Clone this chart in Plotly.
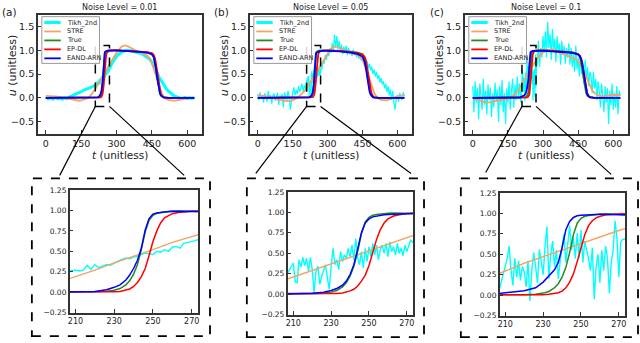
import plotly.graph_objects as go

W, H = 640, 343
FONT = "DejaVu Sans"

names = ["Tikh_2nd", "STRE", "True", "EP-DL", "EAND-ARN"]
colors = ["#00ffff", "#f4a460", "#228b22", "#ff0000", "#0000ff"]
noise_levels = ["0.01", "0.05", "0.1"]
panel_tags = ["(a)", "(b)", "(c)"]

# Tikh_2nd: coarse left part, dense zoom window (210-272), coarse right part
tikh_a_left = [0.01, -0.02, 0.00, -0.03, 0.01, -0.02, -0.01, -0.03, 0.00, -0.02,
               0.02, 0.04, 0.06, 0.08, 0.10, 0.13, 0.16, 0.18, 0.21, 0.23, 0.25]
tikh_a_zoom = [0.27, 0.26, 0.27, 0.33, 0.28, 0.34, 0.30, 0.32, 0.34, 0.33,
               0.36, 0.38, 0.40, 0.42, 0.41, 0.43, 0.44, 0.46, 0.48, 0.47,
               0.46, 0.50, 0.49, 0.52, 0.50, 0.55, 0.56, 0.54, 0.60, 0.61,
               0.62, 0.63]
tikh_a_right = [0.72, 0.80, 0.87, 0.92, 0.96, 0.98, 1.00, 1.00, 0.99, 0.98,
                0.97, 0.96, 0.94, 0.92, 0.89, 0.86, 0.82, 0.75, 0.66, 0.55,
                0.44, 0.35, 0.27, 0.20, 0.14, 0.09, 0.06, 0.03, 0.01, 0.00,
                -0.01, 0.01, -0.01, 0.00, -0.01, 0.01]

tikh_b_left = [0.08, -0.05, 0.12, -0.02, 0.05, -0.10, 0.10, 0.02, -0.08, 0.15,
               -0.03, 0.06, -0.12, 0.04, 0.09, -0.06, 0.02, 0.11, -0.15, 0.05,
               0.00, 0.08, -0.20, 0.12, 0.03, -0.05, 0.15, 0.02, -0.25, -0.02,
               0.10, 0.22, 0.05, 0.16, 0.08, 0.25, 0.12, 0.20, 0.30, 0.14,
               0.26, 0.18]
tikh_b_zoom = [0.38, 0.15, 0.14, 0.42, 0.33, 0.45, 0.35, 0.44, 0.28, 0.45,
               0.30, 0.02, 0.28, 0.34, 0.12, 0.22, 0.30, 0.36, 0.20, 0.06,
               0.35, 0.56, 0.36, 0.42, 0.30, 0.52, 0.40, 0.48, 0.44, 0.56,
               0.46, 0.60, 0.42, 0.68, 0.45, 0.36, 0.52, 0.32, 0.56, 0.40,
               0.58, 0.46, 0.62, 0.48, 0.60, 0.42, 0.55, 0.60, 0.50, 0.62,
               0.46, 0.64, 0.52, 0.58, 0.48, 0.62, 0.50, 0.56, 0.47, 0.60,
               0.52, 0.58, 0.66]
tikh_b_right = [0.60, 0.78, 0.72, 0.90, 0.80, 0.95,
                0.88, 1.05, 0.95, 1.15, 1.00, 1.33, 1.05, 1.30, 1.02, 1.20,
                0.98, 1.12, 0.92, 1.08, 0.95, 1.10, 0.90, 1.05, 0.92, 1.00,
                0.88, 1.02, 0.90, 0.98, 0.85, 0.95, 0.82, 0.92, 0.78, 0.90,
                0.72, 0.85, 0.68, 0.78, 0.62, 0.72, 0.58, 0.66, 0.50, 0.60,
                0.45, 0.55, 0.40, 0.48, 0.32, 0.42, 0.28, 0.35, 0.20, 0.30,
                0.12, 0.25, 0.05, 0.18, -0.05, 0.15, -0.10, -0.25, -0.02, 0.06,
                -0.08, 0.10, 0.02, -0.05, 0.12, 0.03]

tikh_c_left = [0.25, -0.30, 0.35, -0.10, 0.20, -0.45, 0.30, 0.05, -0.25, 0.40,
               -0.15, 0.15, -0.35, 0.28, -0.05, 0.22, -0.40, 0.10, -0.20, 0.32,
               -0.08, 0.18, -0.50, 0.25, -0.15, 0.38, -0.30, 0.10, -0.55, 0.20,
               -0.10, 0.35, -0.25, 0.15, 0.40, -0.20, 0.28, -0.05, 0.45, 0.02,
               0.30, -0.10]
tikh_c_zoom = [0.33, 0.45, 0.60, 0.30, 0.12, 0.45, 0.22, 0.42, 0.18, 0.35,
               0.28, 0.10, 0.42, -0.07, 0.30, 0.52, 0.35, 0.15, 0.56, 0.40,
               0.25, 0.60, 0.84, 0.20, 0.50, 0.66, 0.35, 0.55, 0.20, 0.42,
               0.62, 0.75, 0.40, 0.60, 0.85, 0.55, 0.70, 0.45, 0.76, 0.45,
               0.80, 0.40, 0.66, 0.55, 0.45, 0.30, 0.58, -0.05, 0.35, 0.50,
               0.15, 0.55, 0.30, 0.60, 0.45, 0.02, 0.40, 0.55, 0.91, 0.70,
               0.22, 0.65, 0.68]
tikh_c_right = [0.70, 1.20, 0.65, 1.05, 0.85, 1.30,
                0.95, 1.40, 0.85, 1.60, 1.05, 1.35, 0.80, 1.45, 1.00, 1.25,
                0.75, 1.30, 0.95, 1.15, 0.70, 1.20, 0.90, 1.10, 0.72, 1.05,
                0.85, 1.15, 0.70, 1.05, 0.65, 0.95, 0.55, 1.10, 0.60, 0.85,
                0.45, 0.90, 0.50, 0.75, 0.30, 0.80, 0.40, 0.65, 0.25, 0.55,
                0.45, 0.10, 0.55, 0.20, 0.40, -0.05, 0.35, 0.15, -0.20, 0.30,
                0.05, -0.30, 0.25, -0.10, 0.20, -0.55, 0.15, -0.15, 0.30, -0.25,
                0.10, -0.20, 0.25, -0.35, 0.15, 0.05]

# STRE on t = 0, 10, ..., 630
t_stre = list(range(0, 631, 10))
stre_a = [0.04, 0.04, 0.04, 0.035, 0.03, 0.025, 0.02, 0.01, 0.00, -0.015,
          -0.03, -0.04, -0.05, -0.055, -0.06, -0.055, -0.04, -0.02, 0.00, 0.05,
          0.11, 0.19, 0.27, 0.36, 0.44, 0.52, 0.61, 0.69, 0.78, 0.87,
          0.95, 1.02, 1.07, 1.10, 1.10, 1.08, 1.05, 1.02, 1.00, 0.98,
          0.96, 0.94, 0.92, 0.89, 0.83, 0.73, 0.58, 0.42, 0.26, 0.12,
          0.03, -0.02, -0.04, -0.055, -0.06, -0.06, -0.05, -0.035, -0.02, -0.01,
          0.00, 0.00, 0.00, 0.00]
stre_b = [0.05, 0.05, 0.04, 0.04, 0.03, 0.02, 0.01, 0.00, -0.02, -0.035,
          -0.05, -0.06, -0.07, -0.07, -0.065, -0.05, -0.03, 0.00, 0.04, 0.09,
          0.14, 0.21, 0.29, 0.37, 0.45, 0.53, 0.61, 0.69, 0.77, 0.85,
          0.93, 1.00, 1.05, 1.08, 1.08, 1.06, 1.03, 1.00, 0.98, 0.96,
          0.95, 0.93, 0.92, 0.90, 0.86, 0.79, 0.68, 0.54, 0.38, 0.23,
          0.11, 0.03, -0.02, -0.04, -0.05, -0.05, -0.04, -0.02, 0.00, 0.02,
          0.03, 0.04, 0.05, 0.05]
stre_c = [0.00, -0.02, -0.04, -0.06, -0.08, -0.09, -0.10, -0.10, -0.09, -0.08,
          -0.07, -0.06, -0.05, -0.04, -0.03, -0.01, 0.01, 0.04, 0.08, 0.13,
          0.20, 0.30, 0.39, 0.47, 0.55, 0.63, 0.71, 0.79, 0.86, 0.92,
          0.96, 0.99, 1.01, 1.02, 1.02, 1.00, 0.98, 0.96, 0.94, 0.92,
          0.90, 0.88, 0.86, 0.84, 0.81, 0.77, 0.70, 0.60, 0.48, 0.36,
          0.25, 0.16, 0.10, 0.06, 0.04, 0.03, 0.03, 0.04, 0.05, 0.06,
          0.06, 0.06, 0.06, 0.06]

# True / EP-DL / EAND-ARN on a shared grid (denser near the edges)
t_sm = [0, 100, 200, 220, 226, 230, 233, 236, 238, 240,
        242, 244, 246, 248, 250, 252, 254, 256, 258, 260,
        263, 266, 270, 280, 300, 350, 400, 430, 450, 458,
        464, 468, 472, 476, 480, 484, 488, 494, 500, 520,
        630]
true_u = [0, 0, 0, 0.005, 0.012, 0.025, 0.045, 0.09, 0.14, 0.22,
          0.34, 0.52, 0.74, 0.88, 0.94, 0.965, 0.975, 0.982, 0.986, 0.99,
          0.993, 0.995, 0.997, 1.0, 1.0, 0.99, 0.97, 0.95, 0.92, 0.86,
          0.74, 0.6, 0.44, 0.3, 0.18, 0.1, 0.05, 0.02, 0.008, 0, 0]
epdl_a = [0, 0, 0, 0, 0, 0.005, 0.01, 0.025, 0.04, 0.07,
          0.12, 0.19, 0.29, 0.45, 0.62, 0.75, 0.85, 0.91, 0.94, 0.96,
          0.975, 0.985, 0.99, 0.995, 1.0, 0.99, 0.975, 0.96, 0.94, 0.9,
          0.82, 0.7, 0.55, 0.4, 0.26, 0.15, 0.08, 0.03, 0.01, 0, 0]
eand_a = [0, 0, 0, 0.01, 0.03, 0.06, 0.09, 0.15, 0.21, 0.29,
          0.39, 0.54, 0.76, 0.90, 0.955, 0.97, 0.978, 0.983, 0.987, 0.99,
          0.993, 0.995, 0.997, 1.0, 1.0, 0.99, 0.97, 0.95, 0.92, 0.86,
          0.74, 0.6, 0.44, 0.3, 0.18, 0.1, 0.05, 0.02, 0.008, 0, 0]
epdl_b = [0, 0, 0, 0, 0, 0.003, 0.008, 0.015, 0.025, 0.04,
          0.06, 0.1, 0.16, 0.23, 0.35, 0.52, 0.67, 0.79, 0.87, 0.92,
          0.955, 0.972, 0.985, 0.995, 1.0, 0.99, 0.97, 0.94, 0.91, 0.87,
          0.8, 0.7, 0.58, 0.45, 0.32, 0.2, 0.11, 0.04, 0.015, 0, 0]
eand_b = [0, 0, 0, 0.01, 0.025, 0.045, 0.07, 0.11, 0.16, 0.24,
          0.36, 0.55, 0.75, 0.87, 0.92, 0.945, 0.955, 0.963, 0.97, 0.975,
          0.98, 0.984, 0.987, 0.99, 0.99, 0.98, 0.95, 0.92, 0.87, 0.78,
          0.64, 0.5, 0.36, 0.24, 0.14, 0.08, 0.04, 0.015, 0.005, 0, 0]
epdl_c = [0, 0, 0, 0, 0.002, 0.005, 0.01, 0.02, 0.03, 0.05,
          0.09, 0.16, 0.26, 0.41, 0.59, 0.74, 0.85, 0.91, 0.945, 0.965,
          0.98, 0.988, 0.993, 0.997, 1.0, 0.99, 0.97, 0.95, 0.92, 0.88,
          0.8, 0.7, 0.57, 0.44, 0.3, 0.19, 0.1, 0.04, 0.015, 0, 0]
eand_c = [0, 0, 0.005, 0.055, 0.09, 0.16, 0.23, 0.31, 0.40, 0.58,
          0.80, 0.90, 0.95, 0.97, 0.978, 0.982, 0.985, 0.987, 0.988, 0.989,
          0.99, 0.99, 0.99, 0.99, 0.99, 0.98, 0.96, 0.94, 0.91, 0.87,
          0.8, 0.7, 0.57, 0.44, 0.3, 0.19, 0.1, 0.04, 0.015, 0, 0]

top_xticks = [0, 150, 300, 450, 600]
top_yticks = [-0.5, 0.0, 0.5, 1.0, 1.5]
ins_xticks = [210, 230, 250, 270]
ins_yticks = [-0.25, 0.0, 0.25, 0.5, 0.75, 1.0, 1.25]
zoom_t = (210, 270)
zoom_u = (-0.18, 1.1)

# --- layout in pixels --------------------------------------------------------
top_x = [(36, 201), (249, 412), (465, 629)]
top_y = (11, 133)
top_range = [-34, 663]
ins_x = [(68, 197), (287, 413), (500, 626)]
ins_y = [(191, 317), (193, 319), (194, 320)]
ins_range = [207, 273.3]
outer = [(30, 179, 209, 341), (246, 179, 424, 342), (461, 179, 639, 342)]
link_ends = [((58, 176), (183, 176)), ((255, 174), (411, 174)), ((486, 173), (612, 175))]


def fx(v):
    return v / W


def fy(v):
    return 1 - v / H


def aid(n):
    return "" if n == 1 else str(n)


tikh_sets = [
    (list(range(0, 201, 10)) + list(range(210, 273, 2)) + list(range(280, 631, 10)),
     tikh_a_left + tikh_a_zoom + tikh_a_right),
    (list(range(0, 206, 5)) + list(range(210, 273)) + list(range(275, 631, 5)),
     tikh_b_left + tikh_b_zoom + tikh_b_right),
    (list(range(0, 206, 5)) + list(range(210, 273)) + list(range(275, 631, 5)),
     tikh_c_left + tikh_c_zoom + tikh_c_right),
]
stre_sets = [stre_a, stre_b, stre_c]
epdl_sets = [epdl_a, epdl_b, epdl_c]
eand_sets = [eand_a, eand_b, eand_c]

fig = go.Figure()
shapes = []
annotations = []

for i in range(3):
    top, ins = i + 1, i + 4
    series = [tikh_sets[i], (t_stre, stre_sets[i]), (t_sm, true_u),
              (t_sm, epdl_sets[i]), (t_sm, eand_sets[i])]
    top_w = [3.0 if i == 0 else 1.2, 1.8, 1.8, 1.8, 1.8]
    ins_w = [1.4, 1.4, 1.5, 1.5, 1.5]
    for k, (tt, uu) in enumerate(series):
        fig.add_trace(go.Scatter(x=tt, y=uu, mode="lines", name=names[k],
                                 line=dict(color=colors[k], width=top_w[k]),
                                 showlegend=False,
                                 xaxis="x" + aid(top), yaxis="y" + aid(top)))
        fig.add_trace(go.Scatter(x=tt, y=uu, mode="lines", name=names[k],
                                 line=dict(color=colors[k], width=ins_w[k]),
                                 showlegend=False,
                                 xaxis="x" + aid(ins), yaxis="y" + aid(ins)))

    common = dict(showline=True, mirror=True, linecolor="#333", linewidth=1.5,
                  ticks="inside", ticklen=3.5, tickwidth=1, tickcolor="#333",
                  showgrid=False, zeroline=False, fixedrange=True)
    fig.update_layout(**{
        "xaxis" + aid(top): dict(common, domain=[fx(top_x[i][0]), fx(top_x[i][1])],
                                 range=top_range, tickvals=top_xticks,
                                 anchor="y" + aid(top),
                                 tickfont=dict(family=FONT, size=9.5, color="#222")),
        "yaxis" + aid(top): dict(common, domain=[fy(top_y[1]), fy(top_y[0])],
                                 range=[-0.75, 1.75], tickvals=top_yticks, tickformat=".1f",
                                 anchor="x" + aid(top),
                                 tickfont=dict(family=FONT, size=9.5, color="#222")),
        "xaxis" + aid(ins): dict(common, domain=[fx(ins_x[i][0]), fx(ins_x[i][1])],
                                 range=ins_range, tickvals=ins_xticks,
                                 anchor="y" + aid(ins),
                                 tickfont=dict(family=FONT, size=8, color="#222")),
        "yaxis" + aid(ins): dict(common, domain=[fy(ins_y[i][1]), fy(ins_y[i][0])],
                                 range=[-0.25, 1.25], tickvals=ins_yticks, tickformat=".2f",
                                 anchor="x" + aid(ins),
                                 tickfont=dict(family=FONT, size=7.5, color="#222")),
    })

    # zoom window on the top axes
    shapes.append(dict(type="rect", xref="x" + aid(top), yref="y" + aid(top),
                       x0=zoom_t[0], x1=zoom_t[1], y0=zoom_u[0], y1=zoom_u[1],
                       line=dict(color="black", width=1.5, dash="dash")))
    # outer dashed frame around the inset
    ox0, oy0, ox1, oy1 = outer[i]
    shapes.append(dict(type="rect", xref="paper", yref="paper",
                       x0=fx(ox0), x1=fx(ox1), y0=fy(oy1), y1=fy(oy0),
                       line=dict(color="black", width=1.8, dash="dash")))
    # connector lines from the zoom window corners
    xd0, xd1 = fx(top_x[i][0]), fx(top_x[i][1])
    yd0, yd1 = fy(top_y[1]), fy(top_y[0])
    for corner, end in zip(zoom_t, link_ends[i]):
        cx = xd0 + (corner - top_range[0]) / (top_range[1] - top_range[0]) * (xd1 - xd0)
        cy = yd0 + (zoom_u[0] + 0.75) / 2.5 * (yd1 - yd0)
        shapes.append(dict(type="line", xref="paper", yref="paper",
                           x0=cx, y0=cy, x1=fx(end[0]), y1=fy(end[1]),
                           line=dict(color="black", width=1.2)))

    # legend drawn by hand (compact matplotlib-style rows)
    lx0 = top_x[i][0] + 4
    shapes.append(dict(type="rect", xref="paper", yref="paper",
                       x0=fx(lx0), x1=fx(lx0 + 58), y0=fy(61), y1=fy(13),
                       line=dict(color="#999", width=1), fillcolor="rgba(255,255,255,0.85)"))
    for k in range(5):
        ry = 19 + 9.2 * k
        shapes.append(dict(type="line", xref="paper", yref="paper",
                           x0=fx(lx0 + 2.5), x1=fx(lx0 + 19), y0=fy(ry), y1=fy(ry),
                           line=dict(color=colors[k], width=3 if k == 0 else 1.8)))
        annotations.append(dict(text=names[k], xref="paper", yref="paper",
                                x=fx(lx0 + 23), y=fy(ry), xanchor="left", yanchor="middle",
                                showarrow=False, font=dict(family=FONT, size=6.5, color="#222")))

    cxm = (top_x[i][0] + top_x[i][1]) / 2
    annotations.append(dict(text="Noise Level = " + noise_levels[i], xref="paper", yref="paper",
                            x=fx(cxm), y=fy(4), xanchor="center", yanchor="middle",
                            showarrow=False, font=dict(family=FONT, size=8, color="#222")))
    annotations.append(dict(text="<i>t</i> (unitless)", xref="paper", yref="paper",
                            x=fx(cxm), y=fy(155), xanchor="center", yanchor="middle",
                            showarrow=False, font=dict(family=FONT, size=10.5, color="#222")))
    annotations.append(dict(text="<i>u</i> (unitless)", xref="paper", yref="paper",
                            x=fx(top_x[i][0] - 26), y=fy(63), xanchor="center", yanchor="middle",
                            textangle=-90, showarrow=False,
                            font=dict(family=FONT, size=11, color="#222")))
    annotations.append(dict(text=panel_tags[i], xref="paper", yref="paper",
                            x=fx(top_x[i][0] - 28), y=fy(8), xanchor="center", yanchor="middle",
                            showarrow=False, font=dict(family=FONT, size=10.5, color="#222")))

fig.update_layout(width=W, height=H, autosize=False,
                  margin=dict(l=0, r=0, t=0, b=0),
                  plot_bgcolor="white", paper_bgcolor="white",
                  shapes=shapes, annotations=annotations,
                  font=dict(family=FONT))

# the page body has a default 8px margin; drop it so the figure fills the window
fig.write_html("out.html", config={"displayModeBar": False},
               post_script="document.body.style.margin = '0';")
